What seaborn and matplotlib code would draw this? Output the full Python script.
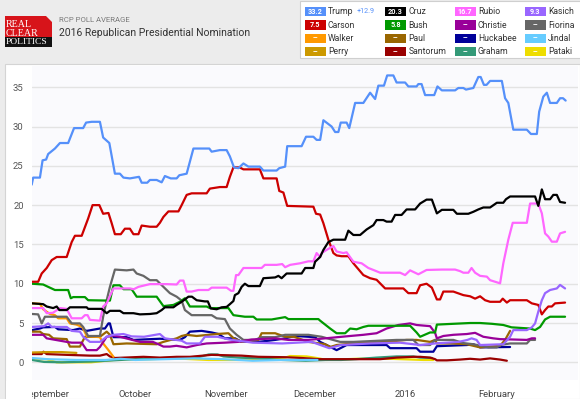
import matplotlib
matplotlib.use("Agg")
import matplotlib.pyplot as plt
import seaborn as sns
import pandas as pd
from matplotlib.patches import Rectangle, Polygon

# RCP poll average; x = days since 1 Sep 2015
TRUMP = [(-5.2, 22.6), (-4.7, 23.5), (-2.4, 23.5), (-1.5, 25.7), (-0.3, 25.8), (0.4, 26.5), (2.7, 27.2),
         (4.4, 27.9), (7.2, 27.9), (9.2, 29.8), (12.3, 29.8), (13.3, 30.5), (15.2, 30.6), (18.0, 30.6),
         (19.1, 28.6), (21.2, 27.9), (23.1, 24.0), (24.8, 24.0), (26.0, 23.5), (28.2, 23.4), (31.3, 23.6),
         (32.2, 22.85), (34.1, 22.85), (35.0, 23.2), (37.3, 23.2), (39.0, 22.9), (40.1, 23.7), (42.1, 23.4),
         (44.1, 23.4), (45.0, 23.8), (47.5, 24.0), (49.8, 27.2), (55.2, 27.2), (56.0, 26.8), (58.8, 27.0),
         (61.1, 27.0), (62.2, 26.2), (63.6, 24.8), (65.1, 24.7), (66.8, 25.3), (68.5, 24.9), (72.4, 24.9),
         (73.6, 24.4), (78.1, 24.4), (79.0, 24.7), (81.0, 24.9), (81.7, 27.5), (86.6, 27.5), (88.1, 28.7),
         (90.6, 28.7), (91.7, 28.3), (92.9, 28.3), (94.0, 30.8), (96.8, 30.0), (98.0, 29.3), (99.1, 29.3),
         (99.9, 30.5), (101.9, 30.5), (102.8, 29.8), (104.8, 33.0), (107.6, 33.0), (109.9, 34.3),
         (111.6, 33.5), (112.7, 35.2), (114.6, 35.2), (115.7, 36.5), (117.8, 36.5), (118.9, 35.6),
         (121.8, 35.6), (122.9, 35.1), (125.7, 35.1), (126.3, 35.4), (127.4, 35.4), (128.6, 34.0),
         (131.7, 34.0), (132.8, 35.1), (134.3, 34.6), (138.8, 34.6), (139.9, 34.9), (141.6, 34.9),
         (142.5, 34.7), (145.0, 34.9), (146.7, 36.3), (147.5, 36.3), (148.6, 35.3), (149.5, 35.3),
         (150.7, 35.8), (154.7, 35.8), (155.8, 33.6), (156.9, 33.0), (158.6, 29.6), (163.2, 29.6),
         (164.6, 29.05), (166.6, 29.05), (167.4, 31.9), (168.8, 33.8), (170.0, 34.3), (171.1, 33.0),
         (173.4, 33.0), (174.5, 33.6), (175.5, 33.6), (176.4, 33.3)]
CRUZ = [(-5.1, 7.5), (-1.3, 7.4), (-0.1, 7.1), (2.1, 6.9), (3.3, 7.1), (4.2, 6.65), (6.7, 6.65), (7.8, 7.0),
        (13.5, 7.0), (14.0, 6.8), (18.6, 6.8), (20.3, 6.25), (21.4, 6.55), (24.8, 6.55), (26.0, 6.25),
        (29.4, 6.25), (31.6, 6.1), (35.0, 6.15), (37.3, 6.25), (39.0, 6.65), (40.1, 7.0), (43.0, 7.0),
        (44.1, 7.3), (45.8, 7.7), (46.9, 8.0), (48.1, 8.35), (49.3, 8.35), (50.9, 7.9), (53.7, 7.75),
        (54.7, 7.75), (55.7, 6.85), (57.7, 6.75), (59.4, 7.0), (61.1, 7.05), (62.2, 7.4), (63.4, 7.8),
        (63.9, 8.55), (65.1, 8.8), (66.2, 9.6), (67.3, 10.0), (68.5, 9.7), (72.4, 9.7), (73.6, 10.7),
        (77.6, 10.8), (78.7, 11.0), (79.8, 10.7), (81.5, 11.3), (86.6, 11.3), (87.8, 12.0), (90.6, 12.0),
        (91.2, 12.8), (92.9, 13.4), (94.0, 14.3), (95.7, 15.3), (97.4, 15.6), (101.4, 15.6), (102.5, 16.75),
        (104.2, 16.2), (106.5, 16.2), (108.7, 16.9), (111.0, 17.45), (112.1, 18.1), (114.4, 18.1),
        (115.5, 17.9), (117.2, 17.9), (118.4, 18.75), (120.6, 18.75), (122.3, 19.45), (125.2, 19.45),
        (126.9, 20.2), (129.1, 20.7), (130.9, 20.7), (132.6, 18.95), (134.3, 19.4), (138.2, 19.4),
        (139.4, 18.9), (143.3, 18.9), (145.0, 19.15), (146.7, 19.45), (148.4, 19.7), (150.7, 19.7),
        (153.0, 20.3), (155.2, 20.3), (156.1, 20.75), (157.5, 21.1), (166.0, 21.1), (167.1, 19.9),
        (168.3, 22.0), (169.4, 20.75), (171.1, 20.75), (172.2, 21.3), (173.4, 21.3), (174.5, 20.4),
        (176.2, 20.3)]
RUBIO = [(-5.1, 6.9), (-1.3, 6.9), (-0.1, 6.25), (2.0, 6.3), (4.4, 6.9), (6.7, 6.8), (8.4, 5.6), (11.8, 5.6),
         (12.9, 6.0), (13.8, 6.0), (14.6, 5.4), (18.0, 5.3), (19.1, 7.1), (20.3, 7.5), (21.5, 8.5), (22.6, 9.4),
         (28.2, 9.4), (29.5, 9.3), (31.1, 9.6), (35.0, 9.95), (40.7, 9.95), (44.1, 9.9), (45.2, 10.4),
         (46.4, 10.4), (47.5, 9.0), (49.2, 9.0), (51.5, 9.2), (54.9, 9.2), (56.0, 9.5), (61.1, 9.5),
         (62.6, 9.1), (63.4, 9.1), (64.3, 11.1), (65.1, 11.1), (66.8, 12.0), (73.0, 12.0), (74.1, 12.4),
         (78.1, 12.4), (80.0, 12.5), (81.0, 12.1), (82.7, 12.4), (86.1, 12.6), (88.9, 12.85), (90.6, 12.85),
         (91.7, 13.9), (92.9, 13.4), (93.4, 13.9), (95.1, 14.3), (97.4, 14.8), (98.5, 14.1), (100.8, 13.9),
         (101.9, 14.0), (104.2, 12.8), (107.0, 12.6), (109.3, 12.0), (111.0, 11.75), (113.3, 11.4),
         (120.1, 11.4), (121.8, 11.1), (123.5, 11.7), (126.3, 11.2), (129.1, 11.75), (134.3, 11.8),
         (138.8, 11.8), (140.5, 11.6), (141.6, 11.4), (143.3, 11.4), (144.4, 12.0), (145.6, 11.4),
         (147.3, 11.0), (149.6, 10.9), (150.7, 10.45), (152.4, 10.25), (154.1, 10.05), (155.2, 12.6),
         (156.9, 15.6), (158.4, 17.75), (163.2, 17.75), (164.3, 20.2), (167.1, 20.2), (168.3, 18.95),
         (169.4, 16.4), (170.5, 16.0), (171.7, 15.35), (173.4, 15.35), (174.5, 16.4), (176.2, 16.6)]
KASICH = [(-5.1, 4.5), (-1.0, 4.6), (0.4, 4.95), (1.6, 4.5), (6.7, 4.5), (8.4, 4.0), (11.2, 3.9), (12.3, 3.25),
          (14.6, 2.6), (18.0, 2.6), (20.3, 3.25), (22.6, 3.5), (26.0, 3.6), (28.8, 3.3), (33.0, 3.25),
          (38.4, 3.6), (40.1, 3.05), (45.8, 2.75), (47.5, 2.4), (52.0, 2.4), (53.7, 3.25), (58.0, 3.25),
          (62.0, 2.9), (70.0, 2.5), (80.0, 2.4), (90.0, 2.6), (96.0, 1.8), (100.0, 2.2), (110.0, 2.4),
          (120.0, 2.5), (127.0, 2.2), (132.0, 2.4), (140.0, 2.6), (143.0, 2.85), (144.4, 3.05), (146.1, 2.85),
          (147.3, 2.2), (155.2, 2.3), (157.5, 3.25), (158.6, 4.1), (163.2, 4.1), (164.9, 4.45), (166.0, 4.95),
          (167.1, 6.45), (168.3, 7.9), (169.4, 8.8), (171.1, 9.2), (173.4, 9.4), (174.5, 9.85), (176.2, 9.4)]
CARSON = [(-5.1, 10.25), (-3.0, 10.25), (-1.8, 11.3), (-0.1, 12.0), (1.6, 13.0), (3.3, 13.4), (6.7, 13.4),
          (8.4, 15.3), (9.5, 16.1), (11.8, 16.1), (14.0, 18.3), (15.5, 20.0), (17.8, 20.0), (19.1, 18.9),
          (20.9, 19.0), (22.0, 17.7), (23.1, 16.3), (25.1, 16.3), (26.5, 17.0), (28.2, 17.0), (29.4, 16.3),
          (31.1, 16.3), (32.2, 17.4), (35.0, 17.25), (37.3, 17.25), (38.4, 17.75), (39.6, 18.5), (41.3, 19.2),
          (44.7, 19.2), (45.8, 20.0), (47.5, 21.3), (49.2, 21.5), (54.3, 21.5), (55.4, 22.1), (58.8, 22.3),
          (61.1, 22.3), (62.2, 23.6), (63.4, 24.8), (65.5, 24.8), (66.8, 24.55), (72.4, 24.55), (73.6, 23.4),
          (78.1, 23.4), (79.0, 21.8), (80.4, 21.6), (81.7, 19.9), (90.6, 19.8), (91.5, 18.9), (92.9, 18.8),
          (94.0, 17.7), (95.7, 15.6), (97.4, 13.9), (98.5, 13.6), (100.2, 13.5), (102.5, 13.5), (104.2, 12.6),
          (107.6, 11.1), (109.9, 10.7), (112.1, 10.5), (115.0, 9.4), (121.2, 9.4), (122.9, 8.8), (125.7, 8.8),
          (126.9, 9.8), (129.1, 10.0), (130.9, 9.5), (132.6, 8.0), (133.7, 8.0), (134.8, 9.0), (138.2, 9.0),
          (141.6, 8.55), (143.9, 8.4), (145.6, 8.1), (147.3, 8.4), (149.0, 7.9), (150.7, 7.7), (154.1, 7.7),
          (155.0, 8.1), (156.4, 7.6), (157.5, 7.9), (163.2, 7.9), (164.9, 7.5), (167.1, 7.3), (168.3, 6.1),
          (169.4, 6.65), (170.5, 7.1), (171.7, 7.1), (172.8, 7.5), (176.2, 7.6)]
BUSH = [(-5.1, 10.0), (-1.3, 9.9), (0.4, 9.6), (2.7, 9.2), (7.2, 9.2), (8.1, 8.15), (8.9, 8.3), (12.9, 8.3),
        (14.0, 7.9), (21.4, 7.85), (22.6, 9.8), (24.8, 9.8), (26.0, 9.3), (28.8, 9.3), (30.5, 8.35), (37.3, 8.35),
        (39.6, 7.15), (43.0, 7.3), (45.2, 7.7), (46.9, 8.15), (48.6, 7.1), (54.3, 7.1), (55.4, 6.9), (61.7, 6.9),
        (63.4, 6.0), (67.3, 5.8), (70.2, 5.8), (71.3, 5.45), (76.4, 5.45), (81.0, 5.75), (82.1, 5.5), (92.3, 5.5),
        (92.9, 5.3), (96.3, 4.3), (98.5, 3.7), (101.4, 3.7), (103.1, 4.3), (105.3, 4.2), (107.6, 4.5),
        (109.3, 4.65), (123.5, 4.65), (125.7, 3.8), (126.9, 3.25), (130.3, 3.8), (132.0, 3.8), (132.6, 4.8),
        (138.2, 4.9), (143.9, 5.0), (147.3, 5.0), (151.3, 4.9), (155.2, 4.75), (158.0, 4.45), (164.3, 4.3),
        (166.0, 4.1), (167.7, 4.5), (169.4, 5.45), (171.1, 5.8), (176.2, 5.8)]
CHRISTIE = [(-5.1, 3.5), (-1.3, 3.5), (-0.1, 3.05), (6.7, 2.6), (8.4, 2.5), (11.8, 2.5), (13.5, 1.55),
            (16.9, 1.55), (18.0, 1.95), (20.3, 3.25), (22.6, 3.4), (24.8, 3.25), (31.6, 2.6), (36.0, 2.6),
            (37.9, 2.3), (39.6, 2.0), (41.8, 2.0), (44.0, 2.1), (47.5, 1.9), (51.0, 2.2), (54.3, 2.4), (60.5, 2.5),
            (65.0, 2.6), (69.6, 2.9), (77.6, 3.05), (82.1, 2.85), (88.9, 2.85), (94.6, 3.05), (103.1, 3.35),
            (107.6, 3.5), (112.1, 3.7), (115.5, 4.3), (119.5, 4.75), (123.5, 4.95), (125.7, 4.75), (130.3, 4.6),
            (132.0, 3.75), (132.6, 3.05), (134.8, 3.35), (138.2, 3.5), (142.8, 3.6), (145.6, 3.75),
            (148.4, 3.25), (151.8, 3.05), (154.1, 2.95), (163.2, 2.85), (164.9, 3.05), (166.0, 3.05)]
FIORINA = [(-5.1, 6.15), (-3.0, 6.1), (-1.8, 4.95), (-0.7, 5.8), (6.7, 5.8), (8.4, 4.95), (11.2, 4.95),
           (12.3, 4.5), (14.0, 3.35), (18.0, 3.35), (19.1, 5.8), (20.3, 7.9), (21.4, 9.6), (23.1, 11.8),
           (27.1, 11.7), (29.4, 11.8), (30.5, 11.3), (32.8, 11.0), (35.0, 10.45), (37.3, 10.45), (39.6, 9.6),
           (41.8, 8.8), (44.1, 8.35), (45.8, 7.85), (46.9, 6.65), (49.2, 6.0), (56.0, 6.0), (57.7, 5.6),
           (60.5, 5.5), (62.2, 4.3), (64.5, 3.5), (66.8, 2.85), (70.7, 2.85), (73.0, 3.2), (77.6, 3.2),
           (81.0, 3.5), (88.9, 3.5), (93.4, 3.25), (99.7, 2.6), (104.2, 2.6), (118.9, 2.85), (124.6, 2.85),
           (126.3, 2.2), (130.3, 2.2), (132.0, 2.85), (138.2, 2.85), (141.6, 2.45), (145.0, 2.3), (150.1, 1.9),
           (153.0, 1.9), (154.1, 2.2), (157.5, 2.4), (163.2, 2.4), (164.3, 2.85), (166.0, 2.85)]
WALKER = [(-5.1, 7.5), (-2.4, 7.45), (-1.3, 6.75), (1.0, 6.15), (2.7, 6.0), (3.8, 5.6), (6.7, 5.6), (7.8, 4.95),
          (10.0, 4.8), (12.0, 4.5), (13.5, 3.35), (18.0, 3.2), (19.1, 2.4), (20.9, 1.55), (22.6, 0.7)]
PAUL = [(-5.1, 3.9), (-2.4, 3.9), (-1.3, 3.6), (0.7, 3.5), (2.1, 3.05), (6.7, 2.95), (7.8, 2.0), (11.2, 2.0),
        (12.9, 3.25), (18.0, 3.25), (20.3, 3.9), (21.4, 3.5), (22.6, 2.3), (27.1, 2.4), (37.3, 2.3), (39.6, 2.6),
        (44.1, 3.05), (45.8, 3.35), (47.5, 3.5), (50.9, 3.35), (57.7, 3.6), (61.7, 3.7), (63.5, 3.05),
        (66.2, 2.6), (71.9, 2.85), (73.0, 3.7), (77.6, 3.7), (81.0, 3.25), (84.0, 3.25), (88.9, 2.6),
        (94.6, 2.3), (96.3, 1.95), (98.5, 2.2), (104.2, 2.4), (115.5, 2.6), (122.3, 2.85), (125.7, 2.85),
        (130.3, 2.6), (132.0, 2.85), (132.6, 2.4), (138.2, 2.4), (142.8, 2.3), (145.0, 2.1), (147.3, 1.9),
        (154.1, 2.1), (155.8, 2.85), (157.5, 4.0)]
HUCKABEE = [(-5.1, 4.1), (-2.4, 4.3), (-1.3, 4.45), (2.7, 4.5), (3.8, 4.2), (8.9, 4.1), (11.2, 4.3), (13.5, 4.0),
            (18.0, 4.3), (19.7, 4.3), (20.9, 4.95), (21.4, 4.95), (22.6, 3.2), (27.1, 3.2), (29.4, 2.85),
            (38.4, 3.0), (45.2, 2.85), (46.9, 3.2), (48.6, 3.9), (52.6, 4.0), (56.0, 3.8), (58.3, 3.6),
            (60.5, 3.05), (64.0, 3.05), (66.2, 2.6), (71.9, 2.6), (77.6, 2.85), (81.0, 3.05), (84.4, 3.35),
            (91.2, 3.2), (92.9, 2.6), (95.1, 2.2), (98.5, 1.55), (101.9, 2.2), (115.5, 2.2), (116.7, 1.8),
            (125.7, 1.8), (126.9, 1.35), (131.4, 1.35), (132.6, 2.05), (142.8, 2.2), (145.0, 2.3), (146.2, 2.1),
            (147.3, 1.9), (157.5, 1.95)]
JINDAL = [(-5.1, 0.55), (0.0, 0.4), (10.0, 0.3), (20.0, 0.3), (25.0, 0.45), (30.0, 0.3), (40.0, 0.4),
          (50.0, 0.5), (60.0, 0.4), (70.0, 0.2), (80.0, 0.3), (92.0, 0.3)]
PERRY = [(-5.1, 1.25), (0.0, 1.3), (5.0, 1.3), (10.0, 1.2)]
SANTORUM = [(-5.1, 1.05), (-1.8, 1.05), (-1.2, 1.35), (-0.1, 1.05), (6.7, 0.95), (14.6, 0.85), (18.0, 0.85),
            (20.3, 1.05), (21.4, 0.75), (23.1, 0.55), (32.8, 0.7), (38.4, 0.6), (44.1, 0.7), (48.6, 0.7),
            (56.0, 0.95), (66.2, 0.85), (71.9, 0.7), (81.0, 0.65), (86.6, 0.55), (92.3, 0.4), (96.3, 0.4),
            (113.3, 0.4), (118.9, 0.6), (124.6, 0.7), (126.9, 0.7), (130.3, 0.6), (132.0, 0.4), (132.6, 0.25),
            (136.0, 0.25), (140.5, 0.35), (143.9, 0.45), (147.3, 0.35), (150.7, 0.5), (154.1, 0.35),
            (156.4, 0.2)]
GRAHAM = [(-5.1, 0.3), (-1.0, 0.05), (5.0, 0.0), (15.0, 0.1), (25.0, 0.3), (35.0, 0.5), (45.0, 0.6),
          (52.0, 0.7), (55.0, 1.0), (58.0, 1.0), (60.0, 0.75), (65.0, 0.6), (72.0, 0.5), (80.0, 0.3),
          (88.0, 0.2), (95.0, 0.3), (100.0, 0.3), (105.0, 0.4), (112.0, 0.6), (118.9, 0.75), (124.6, 0.75),
          (126.9, 0.6), (131.0, 0.55)]
PATAKI = [(-5.1, 0.4), (-0.1, 0.4), (3.3, 0.0), (15.0, 0.0), (22.6, 0.3), (35.0, 0.4), (43.5, 0.5),
          (54.9, 0.3), (65.0, 0.3), (75.3, 0.5), (81.0, 0.6), (82.7, 0.8), (88.3, 0.75), (91.7, 0.55),
          (95.1, 0.3), (105.3, 0.45), (116.7, 0.45), (128.0, 0.3), (131.4, 0.3)]

# legend order (4 columns x 4 rows) and the latest values shown in the badges
CANDIDATES = ["Trump", "Cruz", "Rubio", "Kasich", "Carson", "Bush", "Christie", "Fiorina",
              "Walker", "Paul", "Huckabee", "Jindal", "Perry", "Santorum", "Graham", "Pataki"]
BADGES = ["33.2", "20.3", "16.7", "9.3", "7.5", "5.8", "--", "--",
          "--", "--", "--", "--", "--", "--", "--", "--"]
SERIES = [TRUMP, CRUZ, RUBIO, KASICH, CARSON, BUSH, CHRISTIE, FIORINA,
          WALKER, PAUL, HUCKABEE, JINDAL, PERRY, SANTORUM, GRAHAM, PATAKI]
COLORS = {"Trump": "#5590fa", "Cruz": "#000000", "Rubio": "#ff66ff", "Kasich": "#9966ff",
          "Carson": "#cc0000", "Bush": "#009900", "Christie": "#990099", "Fiorina": "#666666",
          "Walker": "#ff9900", "Paul": "#996600", "Huckabee": "#000099", "Jindal": "#66ccff",
          "Perry": "#cc9900", "Santorum": "#990000", "Graham": "#339977", "Pataki": "#eedd00"}
MONTH_POS = [0, 30, 61, 91, 122, 153]
MONTH_LABELS = ["September", "October", "November", "December", "2016", "February"]
Y_TICKS = [0, 5, 10, 15, 20, 25, 30, 35]

rows = []
for name, pts in zip(CANDIDATES, SERIES):
    for d, v in pts:
        rows.append({"day": d, "value": v, "candidate": name})
df = pd.DataFrame(rows)

sns.set_theme(style="white")
plt.rcParams["font.family"] = ["Roboto", "DejaVu Sans"]

W, H = 580, 399
fig = plt.figure(figsize=(W / 100, H / 100), dpi=100)
fig.patch.set_facecolor("#ececec")


def fx(x):
    return x / W


def fy(y):
    return 1 - y / H


# chart panel, kept behind the axes
fig.patches.append(Rectangle((fx(5), 0), fx(575), fy(64), transform=fig.transFigure,
                             facecolor="#ffffff", edgecolor="#d4d4d4", lw=0.8, zorder=-5))

ax = fig.add_axes([fx(32), fy(380), fx(578 - 32), (380 - 66) / H])
ax.set_zorder(2)
ax.set_facecolor("#fafafd")
for s in ax.spines.values():
    s.set_visible(False)
for t in Y_TICKS:
    ax.axhline(t, color="#e3e3e3", lw=1.0, zorder=0)

# draw later-listed series first so the leaders sit on top
order = CANDIDATES[::-1]
sns.lineplot(data=df, x="day", y="value", hue="candidate", hue_order=order, palette=COLORS,
             estimator=None, sort=True, lw=1.6, legend=False, ax=ax)

ax.set_xlim(-5.1, 180.6)
ax.set_ylim(-2.25, 37.7)
ax.set_xticks(MONTH_POS)
ax.set_xticklabels(MONTH_LABELS, fontsize=6.8, color="#444444")
ax.set_yticks(Y_TICKS)
ax.set_yticklabels([str(t) for t in Y_TICKS], fontsize=6.8, color="#555555")
ax.tick_params(axis="both", length=0)
ax.tick_params(axis="x", pad=7)
ax.tick_params(axis="y", pad=6)
ax.set_xlabel("")
ax.set_ylabel("")
ax.grid(False)

# the first month label is cut at the plot's left edge, as in the original
fig.patches.append(Rectangle((fx(6), 0), fx(26), 18 / H, transform=fig.transFigure,
                             facecolor="#ffffff", edgecolor="none", zorder=5))

# header: logo
fig.patches.append(Rectangle((fx(5), fy(47)), fx(47), 31 / H, transform=fig.transFigure,
                             facecolor="#d7141a", edgecolor="none"))
fig.patches.append(Rectangle((fx(5), fy(47)), fx(47), 10 / H, transform=fig.transFigure,
                             facecolor="#111111", edgecolor="none"))
fig.patches.append(Polygon([(fx(46), fy(16)), (fx(52), fy(16)), (fx(52), fy(22))], closed=True,
                           transform=fig.transFigure, facecolor="#ececec", edgecolor="none"))
serif = ["Liberation Serif", "DejaVu Serif"]
fig.text(fx(6), fy(24.5), "REAL", color="white", fontsize=7.2, family=serif, va="center", ha="left")
fig.text(fx(6), fy(33), "CLEAR", color="white", fontsize=7.2, family=serif, va="center", ha="left")
fig.text(fx(6), fy(42.5), "POLITICS", color="white", fontsize=6.8, family=serif, va="center", ha="left")

fig.text(fx(59), fy(20), "RCP POLL AVERAGE", fontsize=5.6, color="#7a7a7a", va="center", ha="left")
fig.text(fx(59), fy(32.5), "2016 Republican Presidential Nomination", fontsize=7.5, color="#333333",
         va="center", ha="left")

# legend box
fig.patches.append(Rectangle((fx(300), fy(58)), fx(290), 57 / H, transform=fig.transFigure,
                             facecolor="#ffffff", edgecolor="#cfcfcf", lw=0.8))
col_x = [304.5, 385, 454.5, 524.5]
row_y = [11.7, 25, 38.3, 51.7]
for i, name in enumerate(CANDIDATES):
    cx = col_x[i % 4]
    cy = row_y[i // 4]
    fig.patches.append(Rectangle((fx(cx), fy(cy + 4.5)), fx(21), 9 / H, transform=fig.transFigure,
                                 facecolor=COLORS[name], edgecolor="none"))
    fig.text(fx(cx + 10.5), fy(cy), BADGES[i], fontsize=5.2, color="white", fontweight="bold",
             ha="center", va="center")
    fig.text(fx(cx + 23.5), fy(cy), name, fontsize=6.2, color="#333333", ha="left", va="center")
fig.text(fx(357), fy(11.7), "+12.9", fontsize=5.2, color="#5590fa", ha="left", va="center")

fig.savefig("out.png", dpi=100, facecolor=fig.get_facecolor())
